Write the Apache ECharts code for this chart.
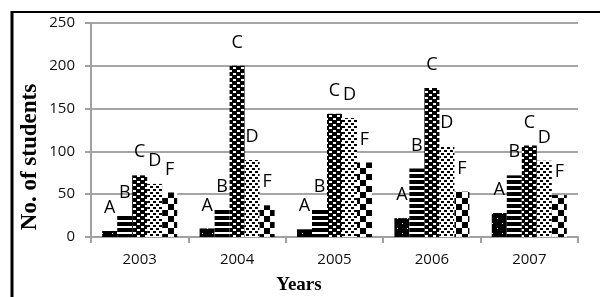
<!DOCTYPE html>
<html>
<head>
<meta charset="utf-8">
<script src="https://cdn.jsdelivr.net/npm/echarts@6/dist/echarts.min.js"></script>
<style>
  html, body { margin: 0; padding: 0; background: #fff; }
  #chart { width: 600px; height: 297px; }
</style>
</head>
<body>
<div id="chart"></div>
<script>
// 数据
const years = ["2003", "2004", "2005", "2006", "2007"];
const seriesNames = ["A", "B", "C", "D", "F"];
const valuesA = [7, 10, 9, 22, 28];
const valuesB = [25, 32, 32, 80, 72];
const valuesC = [72, 200, 144, 174, 107];
const valuesD = [62, 90, 139, 106, 89];
const valuesF = [52, 37, 87, 53, 49];
const yTicks = [0, 50, 100, 150, 200, 250];

// 填充图案
function pattern(w, h, draw) {
  const c = document.createElement("canvas");
  c.width = w;
  c.height = h;
  const ctx = c.getContext("2d");
  draw(ctx);
  return { image: c, repeat: "repeat" };
}

const patA = pattern(10, 10, ctx => {
  ctx.fillStyle = "#000";
  ctx.fillRect(0, 0, 10, 10);
  ctx.fillStyle = "#fff";
  ctx.fillRect(2, 3, 1, 1);
  ctx.fillRect(7, 8, 1, 1);
});
const patB = pattern(6, 6, ctx => {
  ctx.fillStyle = "#fff";
  ctx.fillRect(0, 0, 6, 6);
  ctx.fillStyle = "#000";
  ctx.fillRect(0, 0, 6, 4);
});
const patC = pattern(8, 6, ctx => {
  ctx.fillStyle = "#000";
  ctx.fillRect(0, 0, 8, 6);
  ctx.fillStyle = "#fff";
  ctx.fillRect(1, 1, 3, 2);
  ctx.fillRect(5, 4, 3, 2);
});
const patD = pattern(6, 6, ctx => {
  ctx.fillStyle = "#fff";
  ctx.fillRect(0, 0, 6, 6);
  ctx.fillStyle = "#000";
  ctx.fillRect(0, 0, 3, 2);
  ctx.fillRect(3, 3, 3, 2);
});
const patF = pattern(12, 12, ctx => {
  ctx.fillStyle = "#fff";
  ctx.fillRect(0, 0, 12, 12);
  ctx.fillStyle = "#000";
  ctx.fillRect(0, 0, 6, 6);
  ctx.fillRect(6, 6, 6, 6);
});

const allValues = [valuesA, valuesB, valuesC, valuesD, valuesF];
const fills = [patA, patB, patC, patD, patF];

const chart = echarts.init(document.getElementById("chart"));

chart.setOption({
  animation: false,
  grid: {
    left: 91,
    right: 22,
    top: 23,
    bottom: 60
  },
  xAxis: {
    type: "category",
    data: years,
    axisLine: { lineStyle: { color: "#a0a0a0", width: 2 } },
    axisTick: { show: true, length: 6, lineStyle: { color: "#a0a0a0", width: 2 } },
    axisLabel: { color: "#111", fontFamily: "Open Sans", fontSize: 15, margin: 15 }
  },
  yAxis: {
    type: "value",
    min: yTicks[0],
    max: yTicks[yTicks.length - 1],
    interval: 50,
    axisLine: { show: true, lineStyle: { color: "#a0a0a0", width: 2 } },
    axisTick: { show: true, length: 6, lineStyle: { color: "#a0a0a0", width: 2 } },
    axisLabel: { color: "#111", fontFamily: "Open Sans", fontSize: 15, margin: 16 },
    splitLine: { lineStyle: { color: "#a5a5a5", width: 2 } }
  },
  series: seriesNames.map((name, i) => ({
    name: name,
    type: "bar",
    data: allValues[i],
    barWidth: 15,
    barGap: "0%",
    itemStyle: { color: fills[i] },
    emphasis: { disabled: true },
    label: {
      show: true,
      position: "top",
      distance: 14,
      formatter: name,
      color: "#000",
      fontFamily: "Open Sans",
      fontSize: 18
    }
  })),
  graphic: [
    // 外框
    { type: "line", shape: { x1: 12, y1: 11, x2: 12, y2: 297 }, style: { stroke: "#000", lineWidth: 3 } },
    { type: "line", shape: { x1: 11, y1: 12, x2: 600, y2: 12 }, style: { stroke: "#000", lineWidth: 2 } },
    {
      type: "text",
      x: 30,
      y: 157,
      rotation: Math.PI / 2,
      style: {
        text: "No. of students",
        fill: "#000",
        font: "bold 23px 'Liberation Serif'",
        align: "center",
        verticalAlign: "middle"
      }
    },
    {
      type: "text",
      x: 299,
      y: 285,
      style: {
        text: "Years",
        fill: "#000",
        font: "bold 19px 'Liberation Serif'",
        align: "center",
        verticalAlign: "middle"
      }
    }
  ]
});
</script>
</body>
</html>
